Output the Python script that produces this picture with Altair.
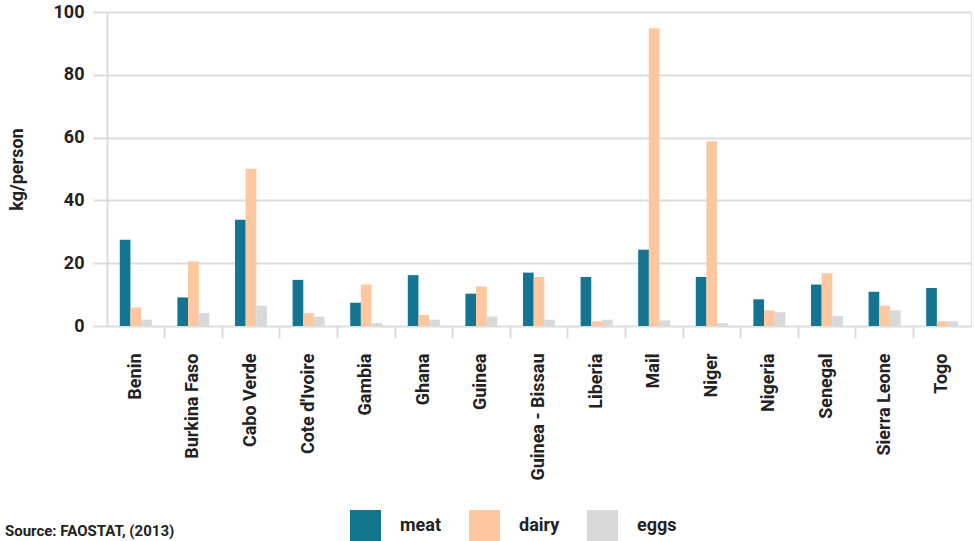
import altair as alt
import pandas as pd

# Per-capita supply of animal products, kg/person
countries = ["Benin", "Burkina Faso", "Cabo Verde", "Cote d'Ivoire", "Gambia",
             "Ghana", "Guinea", "Guinea - Bissau", "Liberia", "Mail", "Niger",
             "Nigeria", "Senegal", "Sierra Leone", "Togo"]
meat = [27.5, 9.1, 33.8, 14.7, 7.4, 16.2, 10.3, 17.0, 15.6, 24.3, 15.6, 8.5, 13.2, 10.9, 12.1]
dairy = [5.9, 20.6, 50.1, 4.1, 13.2, 3.5, 12.6, 15.6, 1.5, 94.8, 58.8, 5.0, 16.8, 6.5, 1.5]
eggs = [2.0, 4.1, 6.5, 3.0, 0.9, 2.0, 3.0, 2.0, 2.0, 1.8, 0.9, 4.4, 3.2, 5.0, 1.5]
kinds = ["meat", "dairy", "eggs"]
colors = ["#147591", "#FDC7A0", "#D9D9D9"]
y_ticks = [0, 20, 40, 60, 80, 100]
source = "Source: FAOSTAT, (2013)"

rows = []
for kind, series in zip(kinds, [meat, dairy, eggs]):
    for c, v in zip(countries, series):
        rows.append({"country": c, "kind": kind, "value": v})
df = pd.DataFrame(rows)

FONT = "Roboto"
TXT = "#222222"
GRID = "#DCDCDC"

x_scale = alt.Scale(domain=countries, paddingInner=0, paddingOuter=0)

bars = alt.Chart(df).mark_bar().encode(
    x=alt.X("country:N", sort=countries, scale=x_scale,
            axis=alt.Axis(title=None, orient="bottom", labelAngle=270,
                          ticks=False, tickSize=0, domain=False, grid=False,
                          labelPadding=27, labelFont=FONT, labelFontSize=18,
                          labelFontWeight="bold", labelColor=TXT)),
    xOffset=alt.XOffset("kind:N", sort=kinds,
                        scale=alt.Scale(domain=kinds, paddingInner=0, paddingOuter=0,
                                        range=[12.8, 44.8])),
    y=alt.Y("value:Q", scale=alt.Scale(domain=[0, 100], nice=False),
            axis=alt.Axis(values=y_ticks, title="kg/person", grid=True,
                          gridColor=GRID, gridWidth=2, domain=True,
                          domainColor=GRID, domainWidth=2, tickColor=GRID,
                          tickWidth=2, tickSize=14, labelPadding=9,
                          labelFont=FONT, labelFontSize=18, labelFontWeight="bold",
                          labelColor=TXT, titleFont=FONT, titleFontSize=18,
                          titleFontWeight="bold", titleColor=TXT, titlePadding=27)),
    color=alt.Color("kind:N", sort=kinds,
                    scale=alt.Scale(domain=kinds, range=colors),
                    legend=alt.Legend(title=None, orient="none", direction="horizontal",
                                      legendX=243, legendY=498, padding=0,
                                      symbolType="square", symbolSize=961,
                                      symbolStrokeWidth=0, symbolOpacity=1,
                                      labelOffset=19, columnPadding=27,
                                      labelFont=FONT, labelFontSize=18,
                                      labelFontWeight="bold", labelColor=TXT)),
)

# separators between country groups, drawn as axis ticks at band edges
separators = alt.Chart(df).mark_point(opacity=0).encode(
    x=alt.X("country:N", sort=countries, scale=x_scale,
            axis=alt.Axis(title=None, orient="bottom", labels=False, ticks=True,
                          tickSize=12, tickWidth=2, tickColor=GRID, domain=False,
                          grid=False, bandPosition=0, values=countries[1:])),
)

caption = alt.Chart(pd.DataFrame({"t": [source]})).mark_text(
    align="left", baseline="bottom", font=FONT, fontSize=15, fontWeight="bold", color=TXT
).encode(x=alt.value(-102), y=alt.value(527), text="t:N")

chart = alt.layer(bars, separators, caption).resolve_axis(x="independent").properties(
    width=864, height=314,
    autosize=alt.AutoSizeParams(type="none"),
    padding={"left": 107, "top": 12, "right": 3, "bottom": 215},
).configure_view(stroke=None).configure(background="white")

chart.save("out.html", embed_options={"renderer": "svg", "actions": False})
